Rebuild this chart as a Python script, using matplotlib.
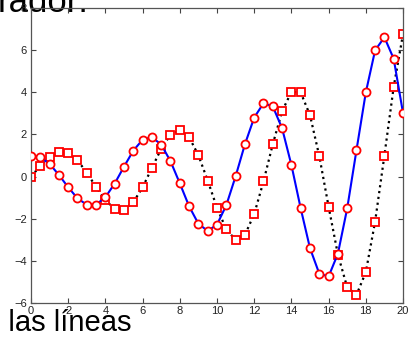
import matplotlib
matplotlib.use("Agg")
import matplotlib.pyplot as plt

# sample points (step 0.5)
x = [i * 0.5 for i in range(41)]

# circles, solid blue line
y_circ = [1.00, 0.92, 0.60, 0.08, -0.51, -1.03, -1.34, -1.33, -0.98, -0.33,
          0.47, 1.23, 1.75, 1.87, 1.52, 0.73, -0.32, -1.41, -2.24, -2.58,
          -2.28, -1.36, 0.01, 1.53, 2.80, 3.48, 3.33, 2.29, 0.55, -1.51,
          -3.40, -4.61, -4.74, -3.66, -1.51, 1.26, 3.99, 5.99, 6.61, 5.59,
          3.02]

# squares, dotted black line
y_sq = [0.00, 0.50, 0.93, 1.16, 1.11, 0.77, 0.19, -0.50, -1.13, -1.53,
        -1.58, -1.22, -0.51, 0.41, 1.32, 1.99, 2.20, 1.87, 1.01, -0.19,
        -1.48, -2.51, -3.00, -2.77, -1.78, -0.23, 1.54, 3.10, 4.02, 3.99,
        2.91, 0.97, -1.43, -3.70, -5.26, -5.61, -4.54, -2.14, 1.00, 4.26,
        6.75]

xticks = list(range(0, 21, 2))
yticks = list(range(-6, 9, 2))

plt.rcParams['font.family'] = ['Liberation Sans', 'DejaVu Sans']

fig = plt.figure(figsize=(4.10, 3.38), dpi=100)
ax = fig.add_axes([31/410, 1 - 303/338, 372/410, 295/338])
ax.patch.set_visible(False)

ax.plot(x, y_circ, '-', color='#0000ff', lw=1.5, marker='o', ms=5.8,
        mec='#ff0000', mfc='white', mew=1.3, zorder=3)
ax.plot(x, y_sq, ':', color='black', lw=1.6, marker='s', ms=6.3,
        mec='#ff0000', mfc='white', mew=1.3, zorder=2)

ax.set_xlim(0, 20)
ax.set_ylim(-6, 8)
ax.set_xticks(xticks)
ax.set_yticks(yticks)
ax.tick_params(direction='in', length=3.5, width=0.8, color='#444444',
               top=True, right=True, labelsize=8, labelcolor='#222222')
ax.tick_params(axis='x', pad=2)
ax.tick_params(axis='y', pad=3)
for s in ax.spines.values():
    s.set_color('#555555')
    s.set_linewidth(0.9)

# bits of surrounding document text
fig.text(-0.006, 1 - 12/338, 'rador:', fontsize=25, color='black',
         va='baseline', ha='left', zorder=-1)
fig.text(-0.038, 1 - 331/338, 'e las líneas', fontsize=21, color='black',
         va='baseline', ha='left', zorder=-1)

fig.savefig('out.png', dpi=100)
